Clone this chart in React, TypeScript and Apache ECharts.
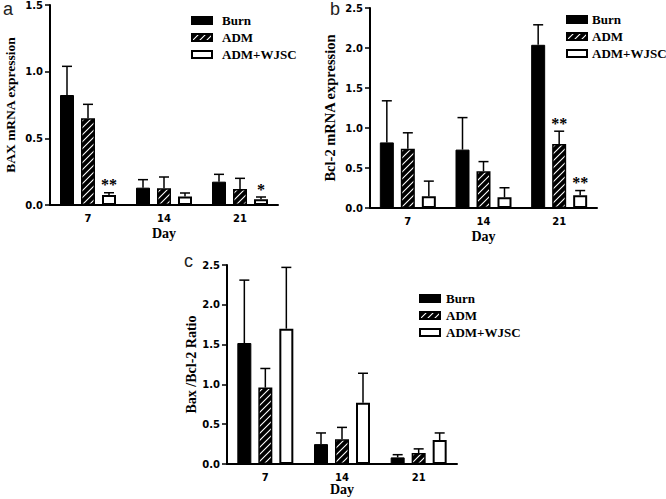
import React, { useEffect, useRef } from 'react';
import * as echarts from 'echarts';

const days = ['7', '14', '21'];
const seriesNames = ['Burn', 'ADM', 'ADM+WJSC'];

// Panel a: BAX mRNA expression
const baxBurn = [0.825, 0.13, 0.175];
const baxBurnSd = [0.215, 0.06, 0.055];
const baxAdm = [0.65, 0.125, 0.12];
const baxAdmSd = [0.105, 0.085, 0.08];
const baxWjsc = [0.075, 0.063, 0.043];
const baxWjscSd = [0.017, 0.027, 0.017];
const baxWjscStars = ['**', '', '*'];

// Panel b: Bcl-2 mRNA expression
const bclBurn = [0.82, 0.73, 2.04];
const bclBurnSd = [0.52, 0.4, 0.25];
const bclAdm = [0.74, 0.46, 0.8];
const bclAdmSd = [0.2, 0.12, 0.16];
const bclAdmStars = ['', '', '**'];
const bclWjsc = [0.146, 0.133, 0.158];
const bclWjscSd = [0.19, 0.12, 0.06];
const bclWjscStars = ['', '', '**'];

// Panel c: Bax/Bcl-2 ratio
const ratioBurn = [1.52, 0.25, 0.083];
const ratioBurnSd = [0.79, 0.14, 0.034];
const ratioAdm = [0.96, 0.31, 0.137];
const ratioAdmSd = [0.24, 0.15, 0.053];
const ratioWjsc = [1.7, 0.77, 0.3];
const ratioWjscSd = [0.77, 0.37, 0.09];

const noStars = ['', '', ''];

const BAR_W = 14;
const BAR_GAP = 7;

function makeHatch(): HTMLCanvasElement {
  const c = document.createElement('canvas');
  c.width = 7;
  c.height = 7;
  const ctx = c.getContext('2d')!;
  ctx.fillStyle = '#000';
  ctx.fillRect(0, 0, 7, 7);
  ctx.strokeStyle = '#fff';
  ctx.lineWidth = 1.1;
  ctx.beginPath();
  ctx.moveTo(-1, 8);
  ctx.lineTo(8, -1);
  ctx.moveTo(-1, 1);
  ctx.lineTo(1, -1);
  ctx.moveTo(6, 8);
  ctx.lineTo(8, 6);
  ctx.stroke();
  return c;
}

const serifBold = {
  fontFamily: 'Liberation Serif',
  fontWeight: 'bold' as const,
  color: '#000',
};
const tickFont = {
  fontFamily: 'DejaVu Sans',
  fontWeight: 'bold' as const,
  fontSize: 10,
  color: '#000',
};

export default function App() {
  const ref = useRef<HTMLDivElement>(null);

  useEffect(() => {
    if (!ref.current) return;
    const chart = echarts.init(ref.current, undefined, { renderer: 'svg' });
    const hatch = makeHatch();

    const styles = [
      { color: '#000', borderColor: '#000', borderWidth: 1 },
      { color: { image: hatch, repeat: 'repeat' }, borderColor: '#000', borderWidth: 1.5 },
      { color: '#fff', borderColor: '#000', borderWidth: 2 },
    ];

    const panels = [
      {
        means: [baxBurn, baxAdm, baxWjsc],
        sds: [baxBurnSd, baxAdmSd, baxWjscSd],
        stars: [noStars, noStars, baxWjscStars],
      },
      {
        means: [bclBurn, bclAdm, bclWjsc],
        sds: [bclBurnSd, bclAdmSd, bclWjscSd],
        stars: [noStars, bclAdmStars, bclWjscStars],
      },
      {
        means: [ratioBurn, ratioAdm, ratioWjsc],
        sds: [ratioBurnSd, ratioAdmSd, ratioWjscSd],
        stars: [noStars, noStars, noStars],
      },
    ];

    const series: any[] = [];
    panels.forEach((p, pi) => {
      for (let k = 0; k < 3; k++) {
        series.push({
          type: 'bar',
          name: seriesNames[k],
          xAxisIndex: pi,
          yAxisIndex: pi,
          data: p.means[k],
          barWidth: BAR_W,
          barGap: (BAR_GAP / BAR_W) * 100 + '%',
          itemStyle: styles[k],
          emphasis: { disabled: true },
        });
      }
      for (let k = 0; k < 3; k++) {
        const sds = p.sds[k];
        const stars = p.stars[k];
        const offset = (k - 1) * (BAR_W + BAR_GAP);
        series.push({
          type: 'custom',
          name: 'err' + pi + k,
          xAxisIndex: pi,
          yAxisIndex: pi,
          z: 5,
          data: p.means[k].map((m, i) => [i, m, sds[i]]),
          encode: { x: 0, y: 1 },
          renderItem: (params: any, api: any) => {
            const cat = api.value(0);
            const m = api.value(1);
            const sd = api.value(2);
            const base = api.coord([cat, m]);
            const top = api.coord([cat, m + sd]);
            const x = base[0] + offset;
            const children: any[] = [
              { type: 'line', shape: { x1: x, y1: base[1], x2: x, y2: top[1] }, style: { stroke: '#000', lineWidth: 1.5 } },
              { type: 'line', shape: { x1: x - 5, y1: top[1], x2: x + 5, y2: top[1] }, style: { stroke: '#000', lineWidth: 1.5 } },
            ];
            const star = stars[params.dataIndex];
            if (star) {
              children.push({
                type: 'text',
                x,
                y: top[1] - 8,
                style: {
                  text: star,
                  fontSize: 16,
                  fontWeight: 'bold',
                  fontFamily: 'Liberation Serif',
                  fill: '#000',
                  align: 'center',
                  verticalAlign: 'middle',
                },
              });
            }
            return { type: 'group', children };
          },
        });
      }
    });

    const grids = [
      { left: 50, top: 5, width: 228, height: 200 },
      { left: 370, top: 8, width: 227, height: 200 },
      { left: 227, top: 265, width: 230, height: 199 },
    ];
    const yMax = [1.5, 2.5, 2.5];
    const yNames = ['BAX mRNA expression', 'Bcl-2 mRNA expression', 'Bax /Bcl-2 Ratio'];
    const yNameSizes = [13.5, 14.5, 14];
    const yGaps = [33, 33, 27];
    const xGaps = [21, 21, 18];

    const legendPos = [
      { left: 186, top: 9, pad: 5 },
      { left: 561, top: 8, pad: 0 },
      { left: 414, top: 287, pad: 1 },
    ];

    const option: any = {
      animation: false,
      grid: grids,
      xAxis: grids.map((_, i) => ({
        type: 'category',
        gridIndex: i,
        data: days,
        boundaryGap: true,
        axisLine: { lineStyle: { color: '#000', width: 2 } },
        axisTick: { alignWithLabel: true, length: 4, lineStyle: { color: '#000', width: 1.5 } },
        axisLabel: { ...tickFont, margin: 8 },
        name: 'Day',
        nameLocation: 'middle',
        nameGap: xGaps[i],
        nameTextStyle: { ...serifBold, fontSize: 14 },
      })),
      yAxis: grids.map((_, i) => ({
        type: 'value',
        gridIndex: i,
        min: 0,
        max: yMax[i],
        interval: 0.5,
        splitLine: { show: false },
        axisLine: { show: true, lineStyle: { color: '#000', width: 2 } },
        axisTick: { show: true, length: 5, lineStyle: { color: '#000', width: 1.5 } },
        axisLabel: { ...tickFont, margin: 7, formatter: (v: number) => v.toFixed(1) },
        name: yNames[i],
        nameLocation: 'middle',
        nameGap: yGaps[i],
        nameTextStyle: { ...serifBold, fontSize: yNameSizes[i] },
      })),
      legend: legendPos.map((pos) => ({
        left: pos.left,
        top: pos.top,
        orient: 'vertical',
        itemWidth: 20,
        itemHeight: 7,
        itemGap: 4,
        icon: 'rect',
        selectedMode: false,
        data: seriesNames,
        textStyle: { ...serifBold, fontSize: 13, padding: [0, 0, 0, pos.pad] },
      })),
      graphic: [
        { type: 'text', left: 3, top: 0, style: { text: 'a', fontSize: 18, fontFamily: 'Liberation Sans', fill: '#222' } },
        { type: 'text', left: 330, top: 0, style: { text: 'b', fontSize: 18, fontFamily: 'Liberation Sans', fill: '#222' } },
        { type: 'text', left: 184, top: 252, style: { text: 'c', fontSize: 18, fontFamily: 'Liberation Sans', fill: '#222' } },
      ],
      series,
    };

    chart.setOption(option);
    return () => chart.dispose();
  }, []);

  return (
    <div
      ref={ref}
      style={{ position: 'fixed', left: 0, top: 0, width: 666, height: 499, background: '#fff' }}
    />
  );
}
